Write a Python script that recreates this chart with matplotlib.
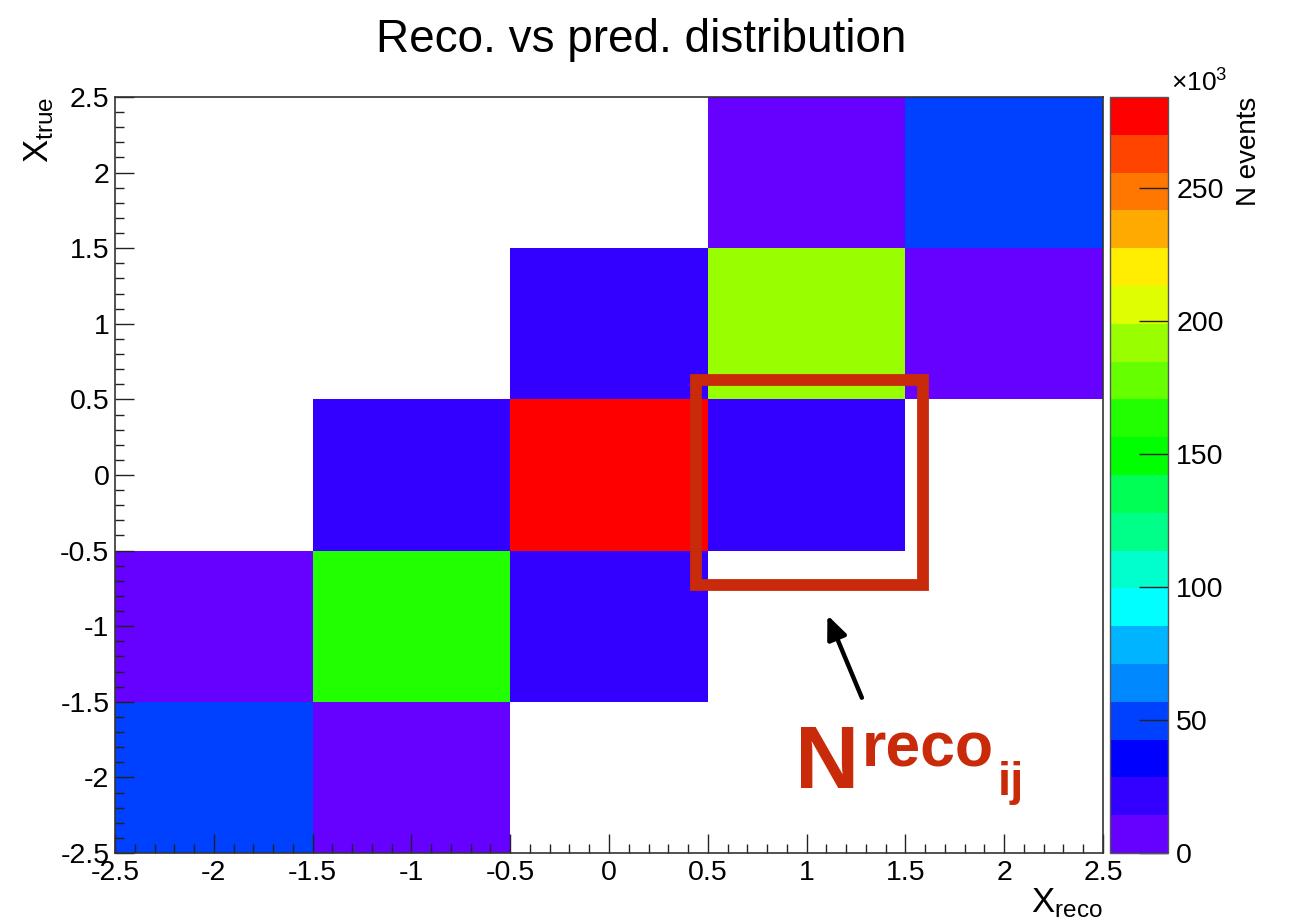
import numpy as np
import matplotlib
matplotlib.use("Agg")
import matplotlib.pyplot as plt
from matplotlib.colors import ListedColormap, BoundaryNorm
from matplotlib.patches import Rectangle
from matplotlib.ticker import MultipleLocator

plt.rcParams["font.family"] = ["Liberation Sans", "DejaVu Sans"]
plt.rcParams["mathtext.fontset"] = "custom"
plt.rcParams["mathtext.rm"] = "Liberation Sans"
plt.rcParams["mathtext.it"] = "Liberation Sans"

# ---------------------------------------------------------
# Data (N events, in units of 10^3)
# ---------------------------------------------------------
bin_edges = [-2.5, -1.5, -0.5, 0.5, 1.5, 2.5]

# rows: x_true bins from -2 to 2, columns: x_reco bins from -2 to 2
row_true_m2 = [45, 8, 0, 0, 0]
row_true_m1 = [9, 165, 21, 0, 0]
row_true_0 = [0, 22, 278, 20, 0]
row_true_p1 = [0, 0, 22, 192, 8]
row_true_p2 = [0, 0, 0, 9, 52]

z_max = 284
cbar_ticks = [0, 50, 100, 150, 200, 250]

palette = [
    "#6600ff", "#3300ff", "#0000ff", "#0040ff", "#0088ff",
    "#00b4ff", "#00ffff", "#00ffcc", "#00ff88", "#00ff55",
    "#00ff00", "#22ff00", "#66ff00", "#99ff00", "#ddff00",
    "#ffee00", "#ffaa00", "#ff7700", "#ff4400", "#ff0000",
]

# ---------------------------------------------------------
# Build histogram
# ---------------------------------------------------------
counts = np.array([row_true_m2, row_true_m1, row_true_0,
                   row_true_p1, row_true_p2], dtype=float)
counts = np.ma.masked_where(counts <= 0, counts)

cmap = ListedColormap(palette)
levels = np.linspace(0, z_max, len(palette) + 1)
norm = BoundaryNorm(levels, cmap.N)

W, H = 1291, 921
fig = plt.figure(figsize=(W / 100, H / 100), dpi=100)

ax = fig.add_axes([115 / W, 1 - 853 / H, (1103 - 115) / W, (853 - 97) / H])
mesh = ax.pcolormesh(bin_edges, bin_edges, counts, cmap=cmap, norm=norm)

ax.set_xlim(-2.5, 2.5)
ax.set_ylim(-2.5, 2.5)
ax.xaxis.set_major_locator(MultipleLocator(0.5))
ax.yaxis.set_major_locator(MultipleLocator(0.5))
ax.xaxis.set_minor_locator(MultipleLocator(0.1))
ax.yaxis.set_minor_locator(MultipleLocator(0.1))
ax.xaxis.set_major_formatter(plt.FuncFormatter(lambda v, p: f"{v:g}"))
ax.yaxis.set_major_formatter(plt.FuncFormatter(lambda v, p: f"{v:g}"))
ax.tick_params(which="major", direction="in", length=14, width=1.0,
               labelsize=20.5, pad=5, color="#222222")
ax.tick_params(axis="y", which="major", pad=4)
ax.tick_params(which="minor", direction="in", length=6.5, width=1.0,
               color="#222222")
for s in ax.spines.values():
    s.set_linewidth(1.2)
    s.set_color("#333333")

# title is centred on the whole canvas, as ROOT does
fig.text(0.497, 1 - 52 / H, "Reco. vs pred. distribution", fontsize=33,
         ha="center", va="baseline")

ax.text(-0.077, 1.0, r"$\mathrm{X}_{\mathrm{true}}$", transform=ax.transAxes,
        rotation=90, ha="center", va="top", fontsize=25)
ax.text(1.0, -0.044, r"$\mathrm{X}_{\mathrm{reco}}$", transform=ax.transAxes,
        ha="right", va="top", fontsize=25)

# ---------------------------------------------------------
# Colour bar
# ---------------------------------------------------------
cax = fig.add_axes([1110 / W, 1 - 853 / H, (1168 - 1110) / W, (853 - 97) / H])
cb = fig.colorbar(mesh, cax=cax, ticks=cbar_ticks)
cb.ax.set_ylim(0, z_max)
cb.ax.tick_params(direction="in", length=21, width=1.0, labelsize=20.5,
                  pad=6, color="#222222")
cb.ax.minorticks_off()
cb.ax.set_yticklabels([str(t) for t in cbar_ticks])
cb.outline.set_edgecolor("#555555")
cb.outline.set_linewidth(1.0)
cax.text(1.05, 1.0, r"$\times10^{3}$", transform=cax.transAxes,
         ha="left", va="bottom", fontsize=19)
cax.text(2.4, 1.0, "N events", transform=cax.transAxes,
         rotation=90, ha="center", va="top", fontsize=20)

# ---------------------------------------------------------
# Annotation: highlighted bin
# ---------------------------------------------------------
red = "#c92a0a"
ax.add_patch(Rectangle((0.44, -0.73), 1.15, 1.36, fill=False,
                       edgecolor=red, linewidth=8.5, clip_on=False,
                       zorder=5))
ax.annotate("", xy=(1.10, -0.91), xytext=(1.285, -1.49),
            arrowprops=dict(arrowstyle="-|>,head_length=1.4,head_width=0.6",
                            color="black", lw=3.2), zorder=6)
ax.text(0.94, -2.07, "N", color=red, fontsize=64, fontweight="bold",
        ha="left", va="baseline", clip_on=False)
ax.text(1.28, -1.93, "reco", color=red, fontsize=45, fontweight="bold",
        ha="left", va="baseline", clip_on=False)
ax.text(1.965, -2.116, "ij", color=red, fontsize=34, fontweight="bold",
        ha="left", va="baseline", clip_on=False)

fig.savefig("out.png", dpi=100)
